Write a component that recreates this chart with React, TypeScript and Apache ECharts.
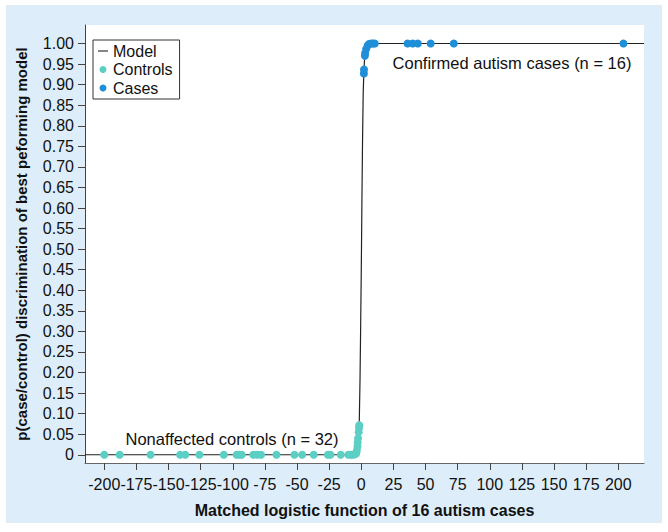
import React, { useEffect, useRef } from "react";
import * as echarts from "echarts";

// Controls (n = 32): [matched logistic value, probability]
const controlsX = [-200, -188, -164, -141, -137, -126, -107, -97, -95, -93, -84, -81, -78, -66, -52, -46, -37, -26, -24, -16, -10, -8, -6.5, -5, -4, -3.5, -3, -2.8, -2.5, -2, -1.8, -1.6];
const controlsY = [0, 0, 0, 0, 0, 0, 0, 0, 0, 0, 0, 0, 0, 0, 0, 0, 0, 0, 0, 0, 0, 0, 0, 0.001, 0.003, 0.01, 0.02, 0.03, 0.04, 0.055, 0.065, 0.072];

// Cases (n = 16)
const casesX = [2.0, 2.1, 2.8, 3.0, 3.8, 5, 6, 7.5, 9, 10.5, 36, 40, 44, 54, 72, 204];
const casesY = [0.927, 0.937, 0.970, 0.977, 0.987, 0.995, 0.999, 1, 1, 1, 1, 1, 1, 1, 1, 1];

// Model curve
const modelX = [-215, -10, -6, -4, -3, -2, -1.5, -1, -0.5, 0, 0.5, 1, 1.5, 2, 2.5, 3, 4, 5, 6, 8, 10, 220];
const modelY = [0, 0, 0.0003, 0.004, 0.013, 0.05, 0.09, 0.18, 0.31, 0.45, 0.62, 0.77, 0.88, 0.93, 0.96, 0.98, 0.992, 0.997, 1, 1, 1, 1];

// Tick values
const xTicks = [-200, -175, -150, -125, -100, -75, -50, -25, 0, 25, 50, 75, 100, 125, 150, 175, 200];
const yTicks = [0, 0.05, 0.1, 0.15, 0.2, 0.25, 0.3, 0.35, 0.4, 0.45, 0.5, 0.55, 0.6, 0.65, 0.7, 0.75, 0.8, 0.85, 0.9, 0.95, 1];

const FONT = "'Liberation Sans', Arial, Helvetica, sans-serif";

export default function App() {
  const ref = useRef<HTMLDivElement>(null);
  useEffect(() => {
    if (!ref.current) return;
    const chart = echarts.init(ref.current, null, { renderer: "svg" });
    const zip = (xs: number[], ys: number[]) => xs.map((x, i) => [x, ys[i]]);
    chart.setOption({
      animation: false,
      textStyle: { fontFamily: FONT },
      grid: {
        left: 75,
        top: 20,
        right: 18,
        bottom: 55,
        show: true,
        backgroundColor: "#ffffff",
        borderWidth: 0,
      },
      legend: {
        orient: "vertical",
        left: 87,
        top: 35,
        data: [
          { name: "Model", icon: "path://M0,0 L10,0 L10,1.1 L0,1.1 Z" },
          { name: "Controls", icon: "circle" },
          { name: "Cases", icon: "circle" },
        ],
        itemWidth: 10,
        itemHeight: 7,
        itemGap: 2.5,
        padding: [3, 7, 3, 5],
        borderColor: "#333",
        borderWidth: 1,
        borderRadius: 0,
        backgroundColor: "#fff",
        textStyle: { fontSize: 16, color: "#111", fontFamily: FONT },
      },
      xAxis: {
        type: "value",
        min: -215,
        max: 220,
        name: "Matched logistic function of 16 autism cases",
        nameLocation: "middle",
        nameGap: 39,
        nameTextStyle: { fontSize: 16, fontWeight: "bold", color: "#111", fontFamily: FONT },
        axisLine: { onZero: false, lineStyle: { color: "#666", width: 1 } },
        axisTick: { show: true, customValues: xTicks, length: 7, inside: false, lineStyle: { color: "#444" } },
        axisLabel: {
          customValues: xTicks,
          fontSize: 16,
          color: "#111",
          margin: 13,
          formatter: (v: number) => String(v),
        },
        splitLine: { show: false },
      },
      yAxis: {
        type: "value",
        min: -0.02,
        max: 1.045,
        name: "p(case/control) discrimination of best peforming model",
        nameLocation: "middle",
        nameGap: 56,
        nameTextStyle: { fontSize: 15, fontWeight: "bold", color: "#111", fontFamily: FONT },
        axisLine: { onZero: false, lineStyle: { color: "#444", width: 1 } },
        axisTick: { show: true, customValues: yTicks, length: 7, lineStyle: { color: "#444" } },
        axisLabel: {
          customValues: yTicks,
          fontSize: 16,
          color: "#111",
          margin: 11,
          formatter: (v: number) => (v === 0 ? "0" : v.toFixed(2)),
        },
        splitLine: { show: false },
      },
      series: [
        {
          name: "Model",
          type: "line",
          data: zip(modelX, modelY),
          symbol: "none",
          lineStyle: { color: "#222", width: 1.2 },
          itemStyle: { color: "#222" },
          clip: true,
          z: 1,
        },
        {
          name: "Controls",
          type: "scatter",
          data: zip(controlsX, controlsY),
          symbolSize: 8,
          itemStyle: { color: "#5ccfc5", opacity: 1 },
          z: 2,
        },
        {
          name: "Cases",
          type: "scatter",
          data: zip(casesX, casesY),
          symbolSize: 8,
          itemStyle: { color: "#1f8fd8", opacity: 1 },
          z: 3,
        },
      ],
      graphic: [
        {
          type: "text",
          x: 226,
          y: 434,
          style: {
            text: "Nonaffected controls (n = 32)",
            font: `16.5px ${FONT}`,
            fill: "#111",
            align: "center",
            verticalAlign: "middle",
          },
          z: 10,
        },
        {
          type: "text",
          x: 506,
          y: 58,
          style: {
            text: "Confirmed autism cases (n = 16)",
            font: `16.5px ${FONT}`,
            fill: "#111",
            align: "center",
            verticalAlign: "middle",
          },
          z: 10,
        },
      ],
    });
    return () => chart.dispose();
  }, []);
  return (
    <div style={{ position: "fixed", left: 0, top: 0, width: 668, height: 532, background: "#fff" }}>
      <div
        ref={ref}
        style={{ position: "absolute", left: 6, top: 5, width: 656, height: 518, background: "#ddeefa" }}
      />
    </div>
  );
}
